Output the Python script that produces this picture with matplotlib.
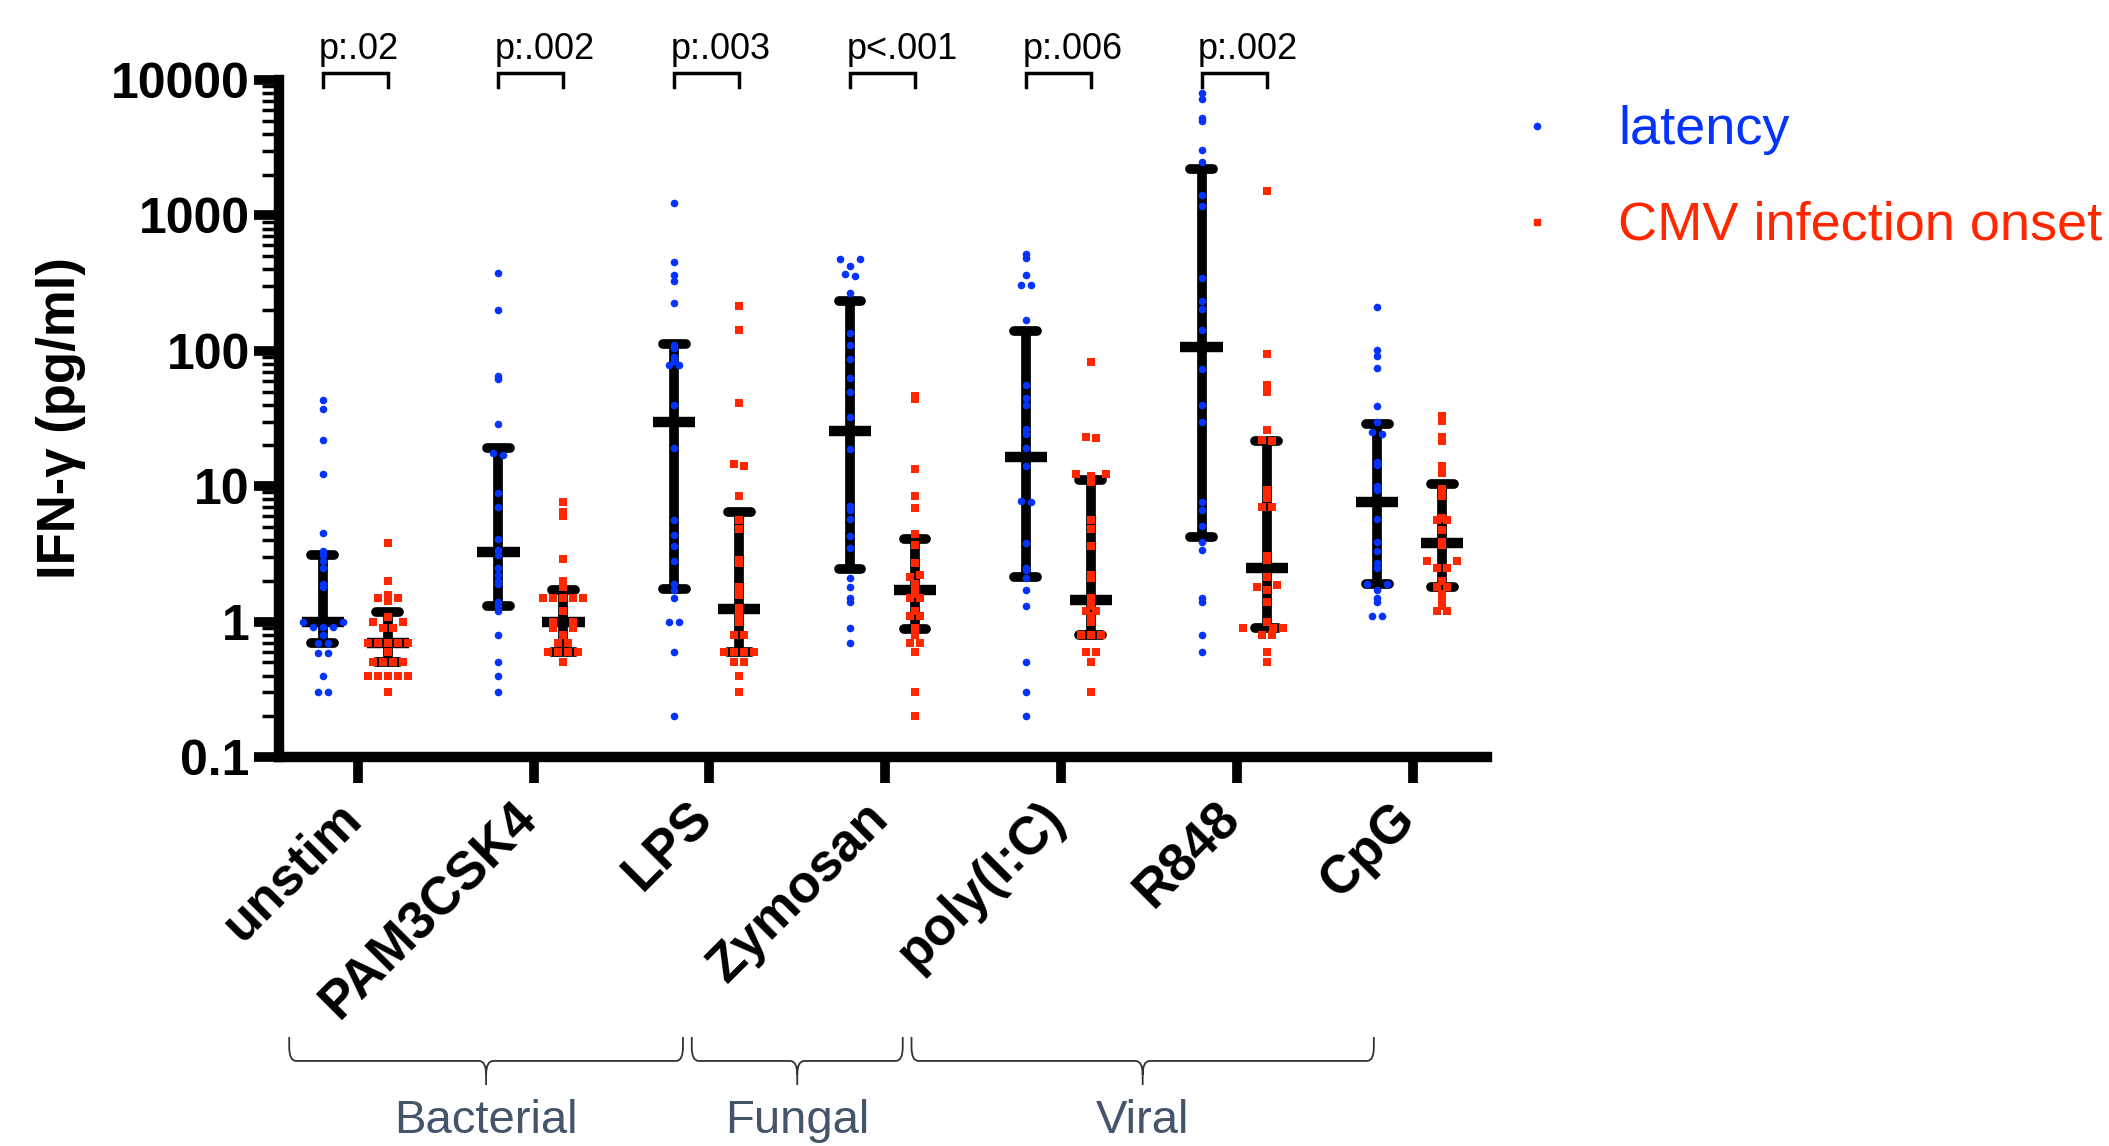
import numpy as np
import matplotlib
matplotlib.use('Agg')
import matplotlib.pyplot as plt
from matplotlib import transforms
from matplotlib.path import Path
from matplotlib.patches import PathPatch
from matplotlib.lines import Line2D
from matplotlib.ticker import LogLocator, NullFormatter, FixedLocator, FixedFormatter

plt.rcParams['font.family'] = ['Liberation Sans', 'DejaVu Sans']

categories = ['unstim', 'PAM3CSK4', 'LPS', 'Zymosan', 'poly(I:C)', 'R848', 'CpG']

# IFN-g (pg/ml) per donor, latency group
lat_unstim = [43, 37, 22, 12.4, 4.5, 3.3, 3.1, 2.8, 2.5, 1.9, 1.8, 1.0, 1.0, 0.91, 0.91, 0.91,
              0.79, 0.69, 0.69, 0.59, 0.59, 0.40, 0.30, 0.30]
lat_pam = [378, 200, 65, 62, 29, 17.5, 17, 8.9, 7.0, 4.1, 3.4, 3.1, 2.5, 2.2, 2.0, 1.9, 1.4,
           1.3, 1.2, 0.8, 0.5, 0.4, 0.3]
lat_lps = [1227, 455, 363, 330, 226, 110, 105, 90, 84, 78, 78, 40, 19, 5.6, 4.4, 3.6, 2.8,
           1.9, 1.7, 1.5, 1.0, 1.0, 0.6, 0.2]
lat_zym = [474, 474, 423, 369, 357, 266, 136, 110, 87, 63, 50, 32.6, 18.8, 7.1, 6.7, 5.7,
           4.3, 3.5, 2.1, 1.8, 1.5, 1.4, 0.9, 0.69]
lat_poly = [519, 482, 363, 306, 306, 168, 56, 45, 40, 26.3, 24.5, 19.3, 14.1, 7.8, 7.6, 3.8,
            2.5, 2.4, 2.1, 1.7, 1.3, 0.5, 0.3, 0.2]
lat_r848 = [7980, 7240, 5210, 4980, 3040, 2470, 1410, 1180, 343, 234, 202, 143, 73, 40, 30,
            7.6, 6.7, 5.1, 3.9, 3.4, 1.5, 1.4, 0.8, 0.6]
lat_cpg = [209, 102, 92, 75, 39, 30, 25.2, 24.5, 15.2, 14.4, 10, 9.3, 5.7, 3.9, 3.3, 2.7, 2.5,
           1.9, 1.9, 1.7, 1.5, 1.4, 1.1, 1.1]

# CMV infection onset group
cmv_unstim = [3.8, 2.0, 1.57, 1.5, 1.5, 1.43, 1.09, 1.0, 1.0, 0.9, 0.9, 0.69, 0.69, 0.69, 0.69,
              0.69, 0.6, 0.5, 0.5, 0.5, 0.5, 0.4, 0.4, 0.4, 0.4, 0.4, 0.3]
cmv_pam = [7.6, 6.4, 6.0, 2.9, 2.0, 1.8, 1.5, 1.5, 1.5, 1.5, 1.5, 1.2, 1.0, 1.0, 0.9, 0.9, 0.8,
           0.69, 0.69, 0.6, 0.6, 0.6, 0.6, 0.5]
cmv_lps = [215, 143, 41, 14.6, 14.2, 8.4, 5.6, 4.8, 2.85, 2.7, 1.8, 1.57, 1.27, 1.2, 1.09, 1.0,
           0.8, 0.8, 0.6, 0.6, 0.6, 0.6, 0.5, 0.5, 0.4, 0.3]
cmv_zym = [46.5, 43.9, 13.3, 8.5, 6.9, 4.45, 3.7, 2.7, 2.2, 2.14, 1.9, 1.8, 1.6, 1.5, 1.5, 1.2,
           1.1, 1.1, 0.9, 0.8, 0.69, 0.69, 0.6, 0.3, 0.2]
cmv_poly = [83, 23.2, 22.8, 12.3, 12.3, 11.8, 10.8, 5.6, 4.8, 3.6, 2.2, 2.1, 1.5, 1.4, 1.3, 1.2,
            1.2, 1.1, 1.0, 0.8, 0.8, 0.8, 0.6, 0.6, 0.5, 0.3]
cmv_r848 = [1520, 94, 56, 50, 26, 22, 21.5, 9.3, 8.2, 7.06, 7.0, 3.07, 2.85, 2.14, 1.85, 1.8,
            1.7, 1.4, 1.0, 0.9, 0.9, 0.9, 0.8, 0.8, 0.6, 0.5]
cmv_cpg = [33, 30.5, 23.2, 21.4, 14.2, 12.6, 9.6, 8.5, 5.85, 5.6, 5.6, 4.75, 3.9, 3.7, 2.8, 2.8,
           2.5, 2.5, 2.0, 1.8, 1.8, 1.6, 1.5, 1.3, 1.2, 1.2]

latency = [lat_unstim, lat_pam, lat_lps, lat_zym, lat_poly, lat_r848, lat_cpg]
cmv = [cmv_unstim, cmv_pam, cmv_lps, cmv_zym, cmv_poly, cmv_r848, cmv_cpg]

# median with interquartile range, as drawn
lat_median = [1.0, 3.25, 30, 25.7, 16.5, 107, 7.6]
lat_q1 = [0.69, 1.3, 1.75, 2.45, 2.15, 4.2, 1.9]
lat_q3 = [3.1, 19, 112, 233, 140, 2200, 28.8]
cmv_median = [0.69, 1.0, 1.25, 1.71, 1.45, 2.48, 3.8]
cmv_q1 = [0.5, 0.6, 0.6, 0.88, 0.8, 0.9, 1.79]
cmv_q3 = [1.18, 1.7, 6.4, 4.05, 11.1, 21.7, 10.3]

p_labels = ['p:.02', 'p:.002', 'p:.003', 'p<.001', 'p:.006', 'p:.002']

group_names = ['Bacterial', 'Fungal', 'Viral']
group_start = [-0.39, 1.90, 3.15]
group_end = [1.85, 3.10, 5.78]

blue = '#0433FF'
red = '#FF2600'

PX_X = 175.8     # pixels per category
PX_DEC = 135.4   # pixels per decade


def swarm(vals, d=9.5, step=5.0):
    # simple beeswarm in pixel space, returns x offsets in category units
    ys = np.log10(np.asarray(vals, float)) * PX_DEC
    order = np.argsort(ys)
    cand = [0.0]
    for k in range(1, 14):
        cand += [-k * step, k * step]
    placed = []
    offs = np.zeros(len(ys))
    for i in order:
        for c in cand:
            if all((c - px) ** 2 + (ys[i] - py) ** 2 >= d * d for px, py in placed):
                offs[i] = c
                placed.append((c, ys[i]))
                break
    # centre rows of equal values
    used = np.zeros(len(ys), bool)
    for i in order:
        if used[i]:
            continue
        row = np.where(np.abs(ys - ys[i]) < 2.0)[0]
        used[row] = True
        offs[row] -= offs[row].mean()
    return offs / PX_X


fig = plt.figure(figsize=(21.09, 11.46), dpi=100)
ax = fig.add_axes([0.1323, 0.3394, 0.5728, 0.5908])

lat_x = -0.2
cmv_x = 0.17

for i in range(len(categories)):
    for xc, vals, med, q1, q3, col, mk, s in [
            (i + lat_x, latency[i], lat_median[i], lat_q1[i], lat_q3[i], blue, 'o', 30),
            (i + cmv_x, cmv[i], cmv_median[i], cmv_q1[i], cmv_q3[i], red, 's', 38)]:
        ax.plot([xc, xc], [q1, q3], color='black', lw=7, solid_capstyle='butt', zorder=2)
        for q in (q1, q3):
            ax.plot([xc - 0.065, xc + 0.065], [q, q], color='black', lw=7,
                    solid_capstyle='round', zorder=2)
        ax.plot([xc - 0.12, xc + 0.12], [med, med], color='black', lw=7.5,
                solid_capstyle='butt', zorder=2)
        ax.scatter(xc + swarm(vals), vals, s=s, marker=mk, color=col,
                   linewidths=0, zorder=3, clip_on=False)

ax.set_yscale('log')
ax.set_ylim(0.1, 10000)
ax.set_xlim(-0.448, 6.424)

for side in ('top', 'right'):
    ax.spines[side].set_visible(False)
for side in ('left', 'bottom'):
    ax.spines[side].set_linewidth(7.5)

ax.yaxis.set_major_locator(FixedLocator([0.1, 1, 10, 100, 1000, 10000]))
ax.yaxis.set_major_formatter(FixedFormatter(['0.1', '1', '10', '100', '1000', '10000']))
ax.yaxis.set_minor_locator(LogLocator(base=10, subs=np.arange(2, 10)))
ax.yaxis.set_minor_formatter(NullFormatter())
ax.tick_params(axis='y', which='major', length=18, width=7, pad=3, labelsize=36)
ax.tick_params(axis='y', which='minor', length=12, width=2.5)
for lab in ax.get_yticklabels():
    lab.set_fontweight('bold')

ax.set_xticks(range(len(categories)))
ax.set_xticklabels(categories, rotation=45, ha='right', rotation_mode='anchor',
                   fontsize=38, fontweight='bold')
ax.tick_params(axis='x', which='major', length=19, width=7, pad=7)
shift = transforms.ScaledTranslation(-0.22, 0, fig.dpi_scale_trans)
for lab in ax.get_xticklabels():
    lab.set_transform(lab.get_transform() + shift)

fig.text(0.029, 0.635, 'IFN-γ (pg/ml)', rotation=90, ha='center', va='center',
         fontsize=38, fontweight='bold')

# significance brackets
trans = transforms.blended_transform_factory(ax.transData, ax.transAxes)
for i, lab in enumerate(p_labels):
    x0, x1 = i + lat_x, i + cmv_x
    ax.plot([x0, x0, x1, x1], [0.989, 1.011, 1.011, 0.989], transform=trans,
            color='black', lw=2.5, clip_on=False, solid_joinstyle='miter')
    ax.text(x0 - 0.02, 1.031, lab, transform=trans, ha='left', va='baseline', fontsize=26)

# legend
fig.add_artist(Line2D([0.7288], [0.8901], marker='o', ms=4.5, color=blue, lw=0,
                      transform=fig.transFigure))
fig.add_artist(Line2D([0.7288], [0.8063], marker='s', ms=5, color=red, lw=0,
                      transform=fig.transFigure))
fig.text(0.7672, 0.8743, 'latency', color=blue, fontsize=39, va='baseline', ha='left')
fig.text(0.7672, 0.7914, 'CMV infection onset', color=red, fontsize=39, va='baseline',
         ha='left')

# stimulus class braces
btrans = transforms.blended_transform_factory(ax.transData, fig.transFigure)
y_top, y_h, y_tip = 0.0951, 0.0742, 0.0532
rx, ry = 0.04, 0.012
for name, xa, xb in zip(group_names, group_start, group_end):
    xm = (xa + xb) / 2
    verts = [(xa, y_top), (xa, y_h + ry), (xa, y_h), (xa + rx, y_h),
             (xm - rx, y_h), (xm, y_h), (xm, y_h - ry), (xm, y_tip),
             (xb, y_top), (xb, y_h + ry), (xb, y_h), (xb - rx, y_h),
             (xm + rx, y_h), (xm, y_h), (xm, y_h - ry)]
    codes = [Path.MOVETO, Path.LINETO, Path.CURVE3, Path.CURVE3,
             Path.LINETO, Path.CURVE3, Path.CURVE3, Path.LINETO,
             Path.MOVETO, Path.LINETO, Path.CURVE3, Path.CURVE3,
             Path.LINETO, Path.CURVE3, Path.CURVE3]
    fig.add_artist(PathPatch(Path(verts, codes), transform=btrans, fill=False,
                             edgecolor='#333333', lw=1.3))
    fig.text(0, 0.011, name, transform=btrans, ha='center', va='baseline',
             fontsize=34, color='#44546A').set_x(xm)

fig.savefig('out.png', dpi=100, facecolor='white')
